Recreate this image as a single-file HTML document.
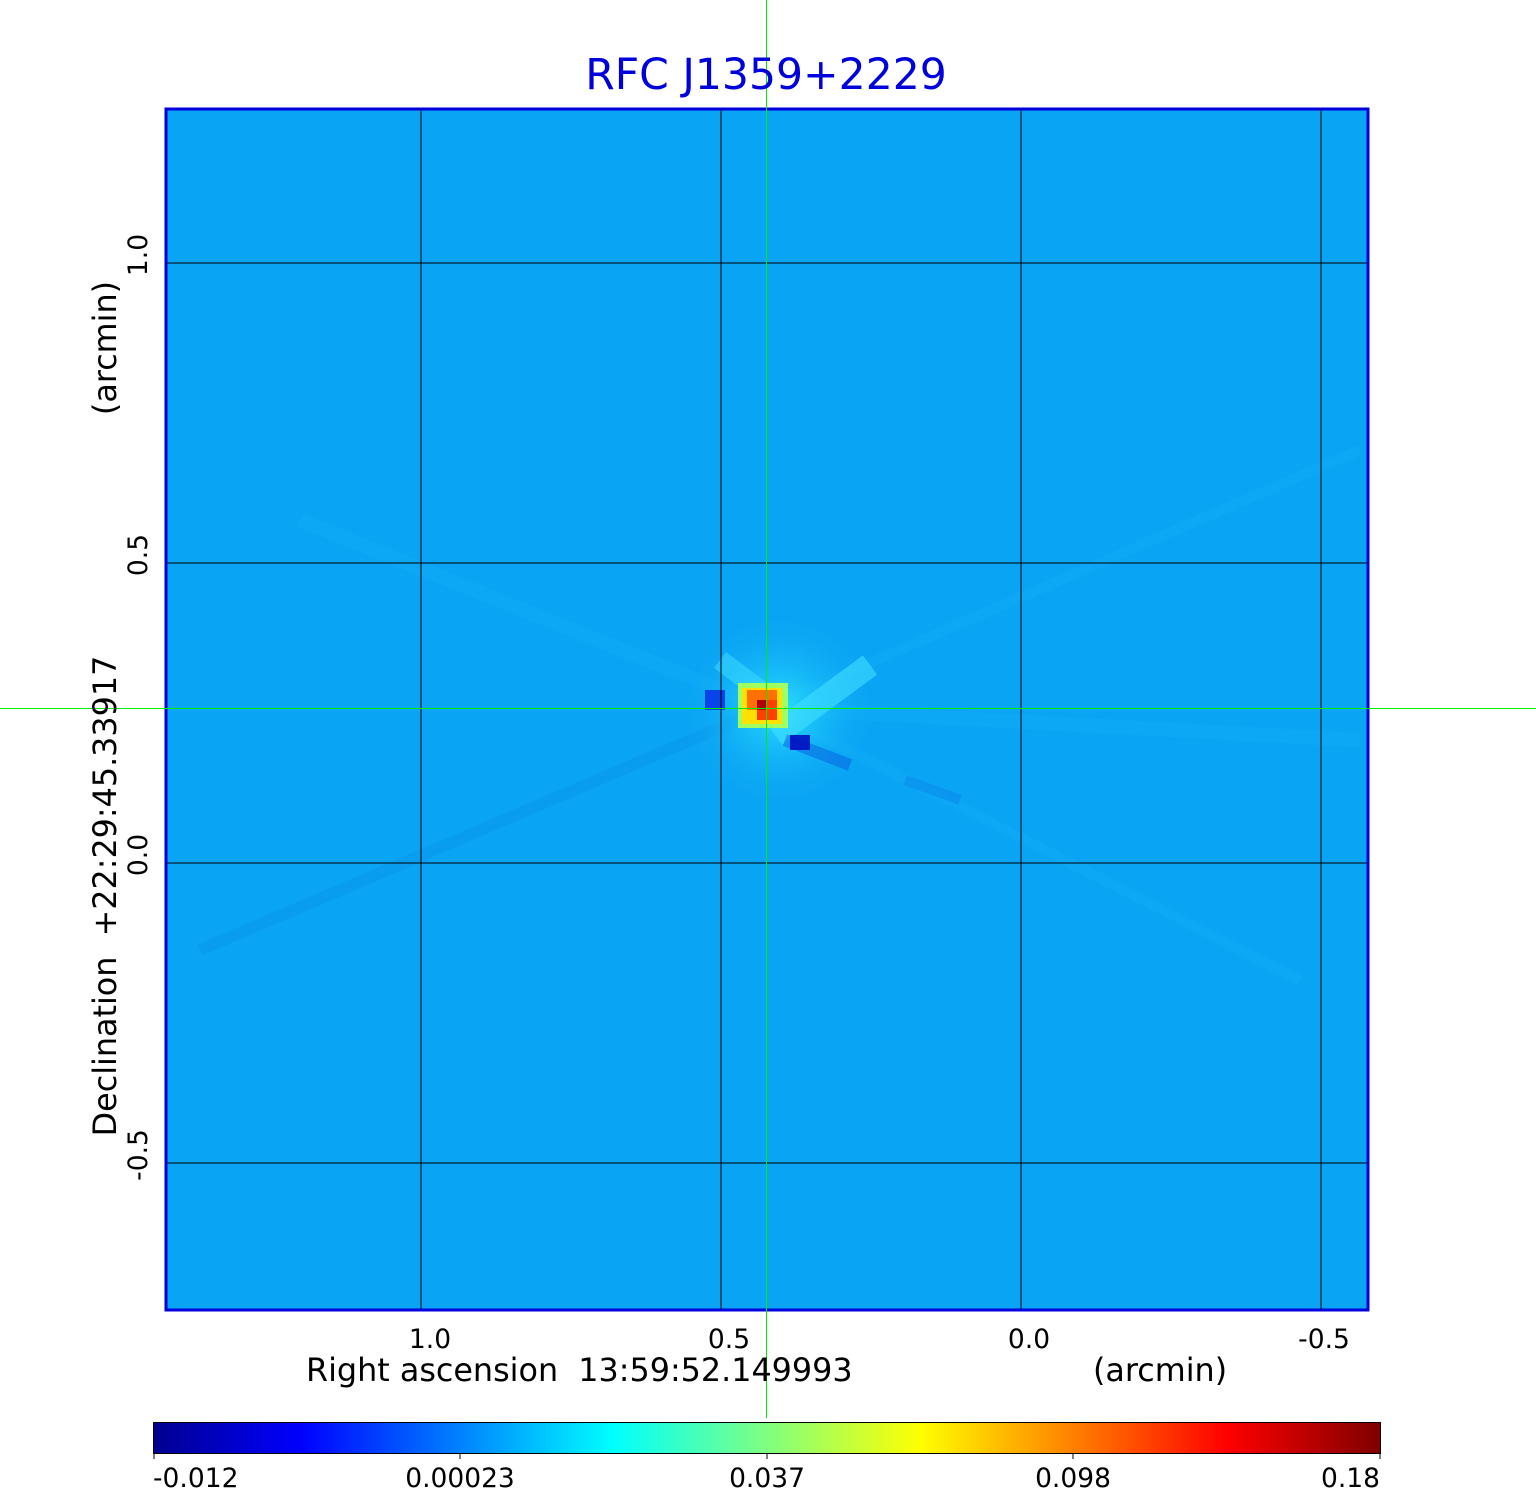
<!DOCTYPE html>
<html><head><style>
html,body{margin:0;padding:0;background:#fff;}
body{width:1536px;height:1511px;position:relative;overflow:hidden;font-family:"DejaVu Sans","Liberation Sans",sans-serif;}
.t{position:absolute;color:#000;font-size:27px;white-space:nowrap;}
</style></head><body>
<svg width="1536" height="1511" style="position:absolute;left:0;top:0">
<defs>
<linearGradient id="jet" x1="0" x2="1">
<stop offset="0" stop-color="#00008f"/>
<stop offset="0.12" stop-color="#0000ff"/>
<stop offset="0.375" stop-color="#00ffff"/>
<stop offset="0.625" stop-color="#ffff00"/>
<stop offset="0.875" stop-color="#ff0000"/>
<stop offset="1" stop-color="#800000"/>
</linearGradient>
<radialGradient id="glow" cx="0.5" cy="0.5" r="0.5">
<stop offset="0" stop-color="#30e8ff" stop-opacity="0.9"/>
<stop offset="1" stop-color="#0aa4f4" stop-opacity="0"/>
</radialGradient>
</defs>
<rect x="166" y="109" width="1202" height="1201" fill="#0aa4f4"/>
<g opacity="0.15">
<line x1="766" y1="708" x2="300" y2="520" stroke="#20c0ff" stroke-width="14"/>
<line x1="766" y1="708" x2="1360" y2="450" stroke="#20c0ff" stroke-width="10"/>
<line x1="766" y1="708" x2="200" y2="950" stroke="#0878e0" stroke-width="12"/>
<line x1="766" y1="708" x2="1300" y2="980" stroke="#20c0ff" stroke-width="10"/>
<line x1="766" y1="708" x2="1360" y2="740" stroke="#20c0ff" stroke-width="14"/>
</g>
<rect x="680" y="610" width="200" height="200" fill="url(#glow)"/>
<line x1="870" y1="665" x2="775" y2="735" stroke="#40e0ff" stroke-width="24" opacity="0.6"/>
<line x1="720" y1="660" x2="760" y2="690" stroke="#40e0ff" stroke-width="20" opacity="0.5"/>
<line x1="785" y1="740" x2="850" y2="765" stroke="#0860e0" stroke-width="12" opacity="0.5"/>
<line x1="905" y1="780" x2="960" y2="800" stroke="#0880e8" stroke-width="10" opacity="0.4"/>
<rect x="705" y="690" width="20" height="20" fill="#0830e8" opacity="0.85"/>
<rect x="790" y="735" width="20" height="15" fill="#0010c0" opacity="0.9"/>
<rect x="738" y="683" width="50" height="45" fill="#a0ff60"/>
<rect x="742" y="688" width="40" height="36" fill="#ffe000"/>
<rect x="747" y="690" width="30" height="20" fill="#ff7000"/>
<rect x="757" y="700" width="20" height="20" fill="#ff4000"/>
<rect x="757" y="700" width="10" height="10" fill="#b00000"/>
<g stroke="#000" stroke-width="1">
<line x1="421" y1="109" x2="421" y2="1310"/>
<line x1="721" y1="109" x2="721" y2="1310"/>
<line x1="1021" y1="109" x2="1021" y2="1310"/>
<line x1="1321" y1="109" x2="1321" y2="1310"/>
<line x1="166" y1="263" x2="1368" y2="263"/>
<line x1="166" y1="563" x2="1368" y2="563"/>
<line x1="166" y1="863" x2="1368" y2="863"/>
<line x1="166" y1="1163" x2="1368" y2="1163"/>
</g>
<rect x="166" y="109" width="1202" height="1201" fill="none" stroke="#0000dd" stroke-width="3"/>
<rect x="153.5" y="1422.5" width="1227" height="31" fill="url(#jet)" stroke="#000" stroke-width="1"/>
<g stroke="#000" stroke-width="1">
<line x1="154" y1="1453" x2="154" y2="1459"/>
<line x1="460" y1="1453" x2="460" y2="1459"/>
<line x1="767" y1="1453" x2="767" y2="1459"/>
<line x1="1073" y1="1453" x2="1073" y2="1459"/>
<line x1="1380" y1="1453" x2="1380" y2="1459"/>
</g>
<line x1="766.5" y1="0" x2="766.5" y2="1418" stroke="#00ee00" stroke-width="1"/>
<line x1="0" y1="708.5" x2="1536" y2="708.5" stroke="#00ee00" stroke-width="1"/>
<g font-family="DejaVu Sans, Liberation Sans, sans-serif" fill="#000">
<text x="766" y="89" text-anchor="middle" font-size="42.5" fill="#0000dd">RFC J1359+2229</text>
<text x="430" y="1348" text-anchor="middle" font-size="26.5">1.0</text>
<text x="729" y="1348" text-anchor="middle" font-size="26.5">0.5</text>
<text x="1029" y="1348" text-anchor="middle" font-size="26.5">0.0</text>
<text x="1324" y="1348" text-anchor="middle" font-size="26.5">-0.5</text>
<text x="306" y="1381" font-size="31.8">Right ascension&#160; 13:59:52.149993</text>
<text x="1093" y="1381" font-size="31.8">(arcmin)</text>
<text x="153" y="1487" font-size="26.5">-0.012</text>
<text x="460" y="1487" text-anchor="middle" font-size="26.5">0.00023</text>
<text x="767" y="1487" text-anchor="middle" font-size="26.5">0.037</text>
<text x="1073" y="1487" text-anchor="middle" font-size="26.5">0.098</text>
<text x="1380" y="1487" text-anchor="end" font-size="26.5">0.18</text>
<text transform="translate(116,348) rotate(-90)" text-anchor="middle" font-size="31.8">(arcmin)</text>
<text transform="translate(116,896) rotate(-90)" text-anchor="middle" font-size="31.8">Declination&#160; +22:29:45.33917</text>
<text transform="translate(147,255) rotate(-90)" text-anchor="middle" font-size="26.5">1.0</text>
<text transform="translate(147,555) rotate(-90)" text-anchor="middle" font-size="26.5">0.5</text>
<text transform="translate(147,855) rotate(-90)" text-anchor="middle" font-size="26.5">0.0</text>
<text transform="translate(147,1155) rotate(-90)" text-anchor="middle" font-size="26.5">-0.5</text>
</g>
</svg>
</body></html>
